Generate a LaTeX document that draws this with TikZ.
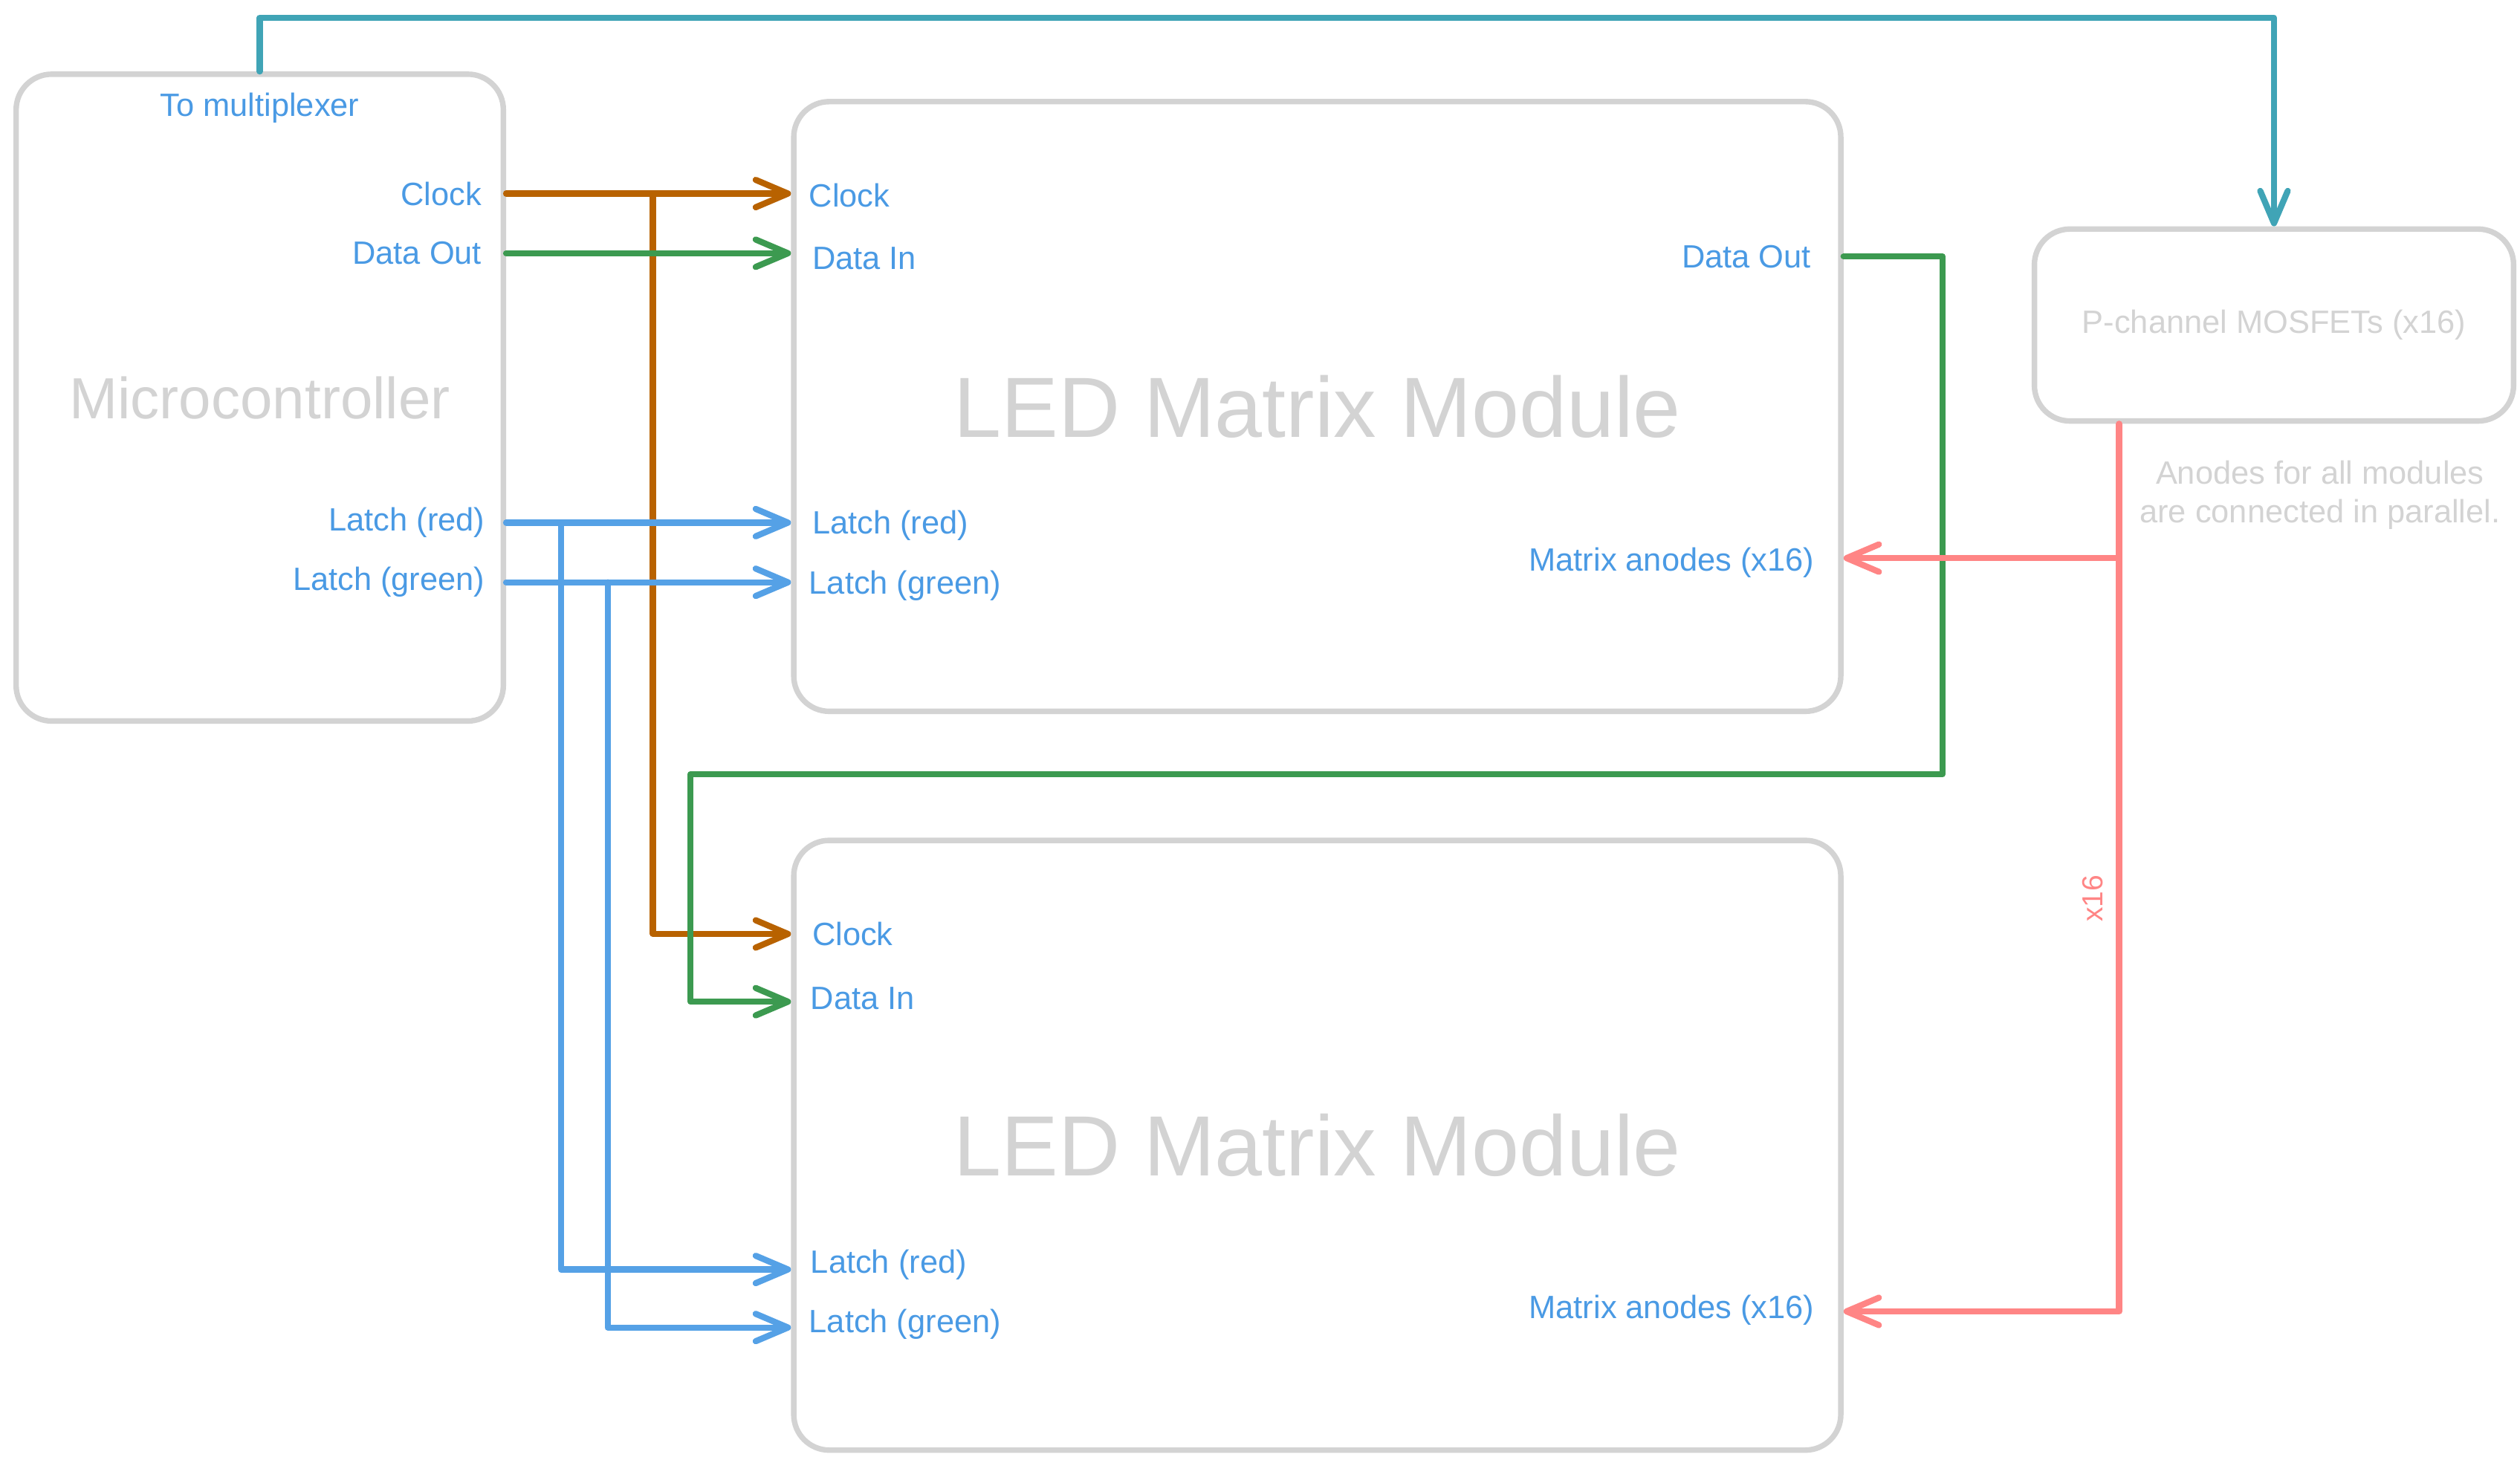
\documentclass[tikz,border=0pt]{standalone}
\usepackage{fontspec}
\setmainfont{Liberation Sans}
\usetikzlibrary{positioning, arrows.meta}
\definecolor{boxgray}{HTML}{D3D3D3}
\definecolor{portblue}{HTML}{4A9AE4}
\definecolor{clkc}{HTML}{B86200}
\definecolor{datac}{HTML}{3C9A50}
\definecolor{latchc}{HTML}{55A1E6}
\definecolor{anodec}{HTML}{FF8585}
\definecolor{muxc}{HTML}{40A4B6}
\newcommand{\portfont}{\fontsize{20}{24}\selectfont}

\begin{document}
\begin{tikzpicture}[x=1pt, y=-1pt, baseline=(current bounding box.center),
	box/.style={draw=boxgray, line width=3.4pt, rounded corners=22pt, text=boxgray, align=center, inner sep=0pt},
	port/.style={text=portblue, font=\portfont, inner sep=0pt},
	wire/.style={line width=3.8pt, line cap=round, line join=round, -{Straight Barb[length=20pt, width=17pt, line cap=round, line join=round]}}]
	\useasboundingbox (0,0) rectangle (1562,905);

	\node[box, minimum width=302pt, minimum height=401pt, font=\fontsize{36}{40}\selectfont] (mcu) at (161,246.5) {Microcontroller};
	\node[box, minimum width=649pt, minimum height=378pt, font=\fontsize{53}{60}\selectfont] (m1) at (816.5,252) {LED Matrix Module};
	\node[box, minimum width=649pt, minimum height=378pt, font=\fontsize{53}{60}\selectfont, below=76.6pt of m1] (m2) {LED Matrix Module};
	\node[box, minimum width=297pt, minimum height=119pt, font=\portfont] (mos) at (1409.5,201.5) {P-channel MOSFETs (x16)};

	\node[port, below=13pt of mcu.north] (mcu-mux) {To multiplexer};
	\node[port, anchor=east, xshift=-15pt] (mcu-clk) at (mcu.east |- 0,120) {Clock};
	\node[port, anchor=east, xshift=-15pt] (mcu-dout) at (mcu.east |- 0,157) {Data Out};
	\node[port, anchor=east, xshift=-13pt] (mcu-lr) at (mcu.east |- 0,324) {Latch (red)};
	\node[port, anchor=east, xshift=-13pt] (mcu-lg) at (mcu.east |- 0,361) {Latch (green)};

	\node[port, anchor=west, xshift=11pt] (m1-clk) at (m1.west |- 0,121) {Clock};
	\node[port, anchor=west, xshift=13pt] (m1-din) at (m1.west |- 0,160) {Data In};
	\node[port, anchor=west, xshift=13pt] (m1-lr) at (m1.west |- 0,326) {Latch (red)};
	\node[port, anchor=west, xshift=11pt] (m1-lg) at (m1.west |- 0,363) {Latch (green)};
	\node[port, anchor=east, xshift=-20pt] (m1-dout) at (m1.east |- 0,159) {Data Out};
	\node[port, anchor=east, xshift=-18pt] (m1-an) at (m1.east |- 0,349) {Matrix anodes (x16)};

	\node[port, anchor=west, xshift=13pt] (m2-clk) at (m2.west |- 0,579) {Clock};
	\node[port, anchor=west, xshift=12pt] (m2-din) at (m2.west |- 0,619) {Data In};
	\node[port, anchor=west, xshift=12pt] (m2-lr) at (m2.west |- 0,784) {Latch (red)};
	\node[port, anchor=west, xshift=11pt] (m2-lg) at (m2.west |- 0,821) {Latch (green)};
	\node[port, anchor=east, xshift=-18pt] (m2-an) at (m2.east |- 0,812) {Matrix anodes (x16)};

	\node[text=boxgray, font=\fontsize{20}{24}\selectfont, align=center, inner sep=0pt] (note) at (1438,307) {Anodes for all modules\\are connected in parallel.};
	\node[text=anodec, font=\fontsize{18}{20}\selectfont, rotate=90, inner sep=0pt] (ax16) at (1297,557) {x16};

	\coordinate (muxtop) at (mcu.north |- 0,11);
	\coordinate (dturn) at (1204,480);
	\coordinate (dback) at (428,480);
	\coordinate (antap) at ([xshift=-96pt]mos.south);

	\draw[wire, muxc] (mcu.north) -- (muxtop) -| (mos.north);

	\draw[wire, clkc] (mcu.east |- mcu-clk) -- (m1.west |- mcu-clk);
	\draw[wire, clkc] ([xshift=91pt]mcu.east |- mcu-clk) |- (m2.west |- m2-clk);

	\draw[wire, datac] (mcu.east |- mcu-dout) -- (m1.west |- mcu-dout);
	\draw[wire, datac] (m1.east |- m1-dout) -| (dturn) -- (dback) |- (m2.west |- 0,621);

	\draw[wire, latchc] (mcu.east |- mcu-lr) -- (m1.west |- mcu-lr);
	\draw[wire, latchc] ([xshift=34pt]mcu.east |- mcu-lr) |- (m2.west |- 0,787);
	\draw[wire, latchc] (mcu.east |- mcu-lg) -- (m1.west |- mcu-lg);
	\draw[wire, latchc] ([xshift=63pt]mcu.east |- mcu-lg) |- (m2.west |- 0,823);

	\draw[wire, anodec] (antap) |- (m2.east |- 0,813);
	\draw[wire, anodec] (antap |- 0,346) -- (m1.east |- 0,346);
\end{tikzpicture}
\end{document}
